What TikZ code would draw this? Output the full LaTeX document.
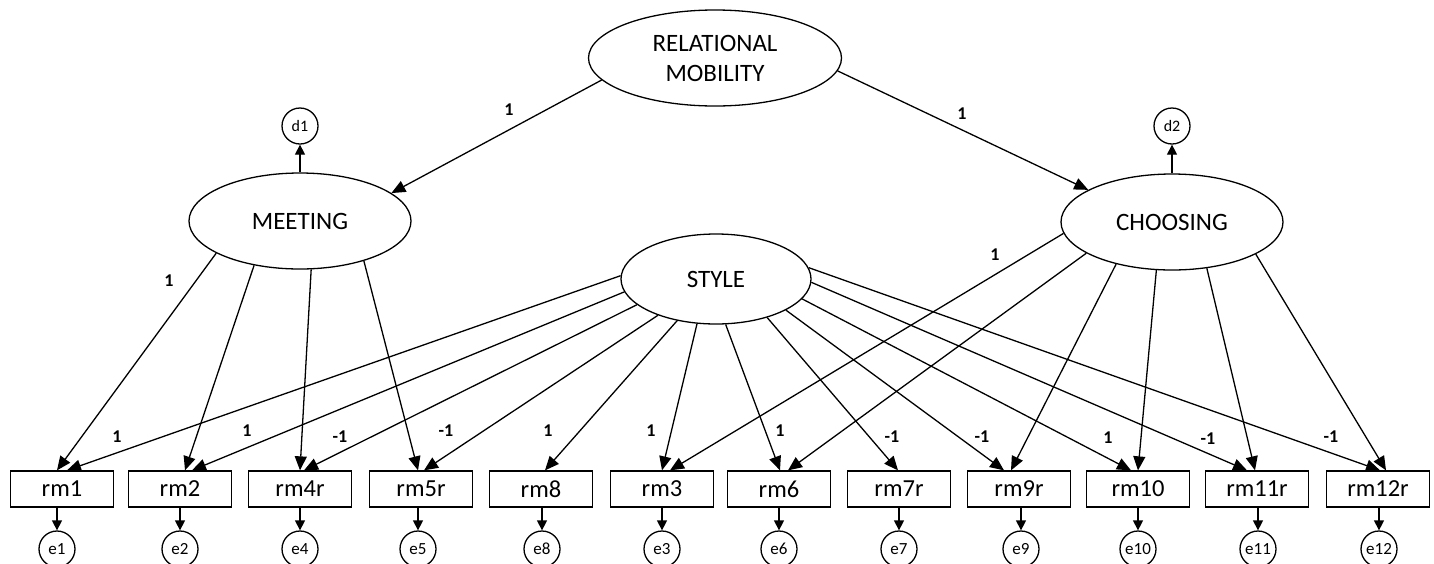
\documentclass[tikz,border=0pt]{standalone}
\usepackage{fontspec}
\setmainfont{Carlito}
\usetikzlibrary{shapes.geometric,arrows.meta,calc}
\begin{document}
\begin{tikzpicture}[x=1pt,y=-1pt,
  latent/.style={draw,ellipse,line width=1.3pt,inner sep=0pt,align=center,font=\fontsize{25}{30}\selectfont},
  obs/.style={draw,rectangle,line width=1.3pt,inner sep=0pt,minimum width=103pt,minimum height=36pt,font=\fontsize{24.5}{28}\selectfont},
  errc/.style={draw,circle,line width=1.3pt,inner sep=0pt,minimum size=36pt,font=\fontsize{17}{20}\selectfont},
  lab/.style={inner sep=0pt,font=\fontsize{18}{20}\selectfont\bfseries},
  arr/.style={line width=1.3pt,-{Triangle[length=14pt,width=12pt]}},
  arrs/.style={line width=1.3pt,-{Triangle[length=10pt,width=10pt]}}]
\useasboundingbox (0,0) rectangle (1434,563);
% latent variables
\node[latent,minimum width=253pt,minimum height=96pt] (rm) at (715,58) {RELATIONAL\\MOBILITY};
\node[latent,minimum width=222pt,minimum height=96pt] (meet) at (300,221) {MEETING};
\node[latent,minimum width=222pt,minimum height=96pt] (choose) at (1172,222) {CHOOSING};
\node[latent,minimum width=190pt,minimum height=90pt] (style) at (716,279) {STYLE};
\node[errc,font=\fontsize{16}{18}\selectfont] (d1) at (300,126) {d1};
\node[errc,font=\fontsize{16}{18}\selectfont] (d2) at (1172,126) {d2};
% observed variables
\foreach \n/\x in {rm1/62,rm2/180,rm4r/300,rm5r/421,rm8/541,rm3/662,rm6/779,rm7r/899,rm9r/1019,rm10/1138,rm11r/1257,rm12r/1378}
  \node[obs] (\n) at (\x,489) {\n};
% errors
\foreach \e/\n/\x in {e1/rm1/57,e2/rm2/180,e4/rm4r/300,e5/rm5r/418,e8/rm8/542,e3/rm3/662,e6/rm6/779,e7/rm7r/899,e9/rm9r/1021,e10/rm10/1138,e11/rm11r/1258,e12/rm12r/1379}
{
  \node[errc] (\e) at (\x,549) {\e};
  \draw[arrs] (\e |- \n.south) -- (\e);
}
% structural paths
\draw[arr] (rm.191) -- (meet.17);
\draw[arr] (rm.354) -- (choose.159);
\draw[arrs] (meet.north) -- (d1);
\draw[arrs] (choose.north) -- (d2);
% MEETING loadings
\draw[arr] (meet.201) -- ($(rm1.north)+(-5,0)$);
\draw[arr] (meet.224) -- ($(rm2.north)+(5,0)$);
\draw[arr] (meet.283) -- ($(rm4r.north)+(0,0)$);
\draw[arr] (meet.328) -- ($(rm5r.north)+(-3,0)$);
% STYLE loadings
\draw[arr] (style.178) -- ($(rm1.north)+(5,0)$);
\draw[arr] (style.188) -- ($(rm2.north)+(12,0)$);
\draw[arr] (style.198) -- ($(rm4r.north)+(4,0)$);
\draw[arr] (style.212) -- ($(rm5r.north)+(3,0)$);
\draw[arr] (style.227) -- ($(rm8.north)+(4,0)$);
\draw[arr] (style.247) -- ($(rm3.north)+(0,0)$);
\draw[arr] (style.282) -- ($(rm6.north)+(1,0)$);
\draw[arr] (style.323) -- ($(rm7r.north)+(-1,0)$);
\draw[arr] (style.336) -- ($(rm9r.north)+(-15,0)$);
\draw[arr] (style.347) -- ($(rm10.north)+(-7,0)$);
\draw[arr] (style.358) -- ($(rm11r.north)+(-10,0)$);
\draw[arr] (style.7) -- ($(rm12r.north)+(2,0)$);
% CHOOSING loadings
\draw[arr] (choose.186) -- ($(rm3.north)+(8,0)$);
\draw[arr] (choose.200) -- ($(rm6.north)+(9,0)$);
\draw[arr] (choose.217) -- ($(rm9r.north)+(-8,0)$);
\draw[arr] (choose.252) -- ($(rm10.north)+(0,0)$);
\draw[arr] (choose.307) -- ($(rm11r.north)+(-2,0)$);
\draw[arr] (choose.339) -- ($(rm12r.north)+(8,0)$);
% labels
\node[lab] (la) at (509,110) {1};
\node[lab] (lb) at (962,114) {1};
\node[lab] (lc) at (169,281) {1};
\node[lab] (ld) at (995,255) {1};
\node[lab] (l1) at (117,437) {1};
\node[lab] (l2) at (247,431) {1};
\node[lab] (l3) at (340,437) {-1};
\node[lab] (l4) at (446,431) {-1};
\node[lab] (l5) at (548,431) {1};
\node[lab] (l6) at (651,431) {1};
\node[lab] (l7) at (780,431) {1};
\node[lab] (l8) at (892,437) {-1};
\node[lab] (l9) at (982,437) {-1};
\node[lab] (l10) at (1108,438) {1};
\node[lab] (l11) at (1208,439) {-1};
\node[lab] (l12) at (1331,437) {-1};
\end{tikzpicture}
\end{document}
